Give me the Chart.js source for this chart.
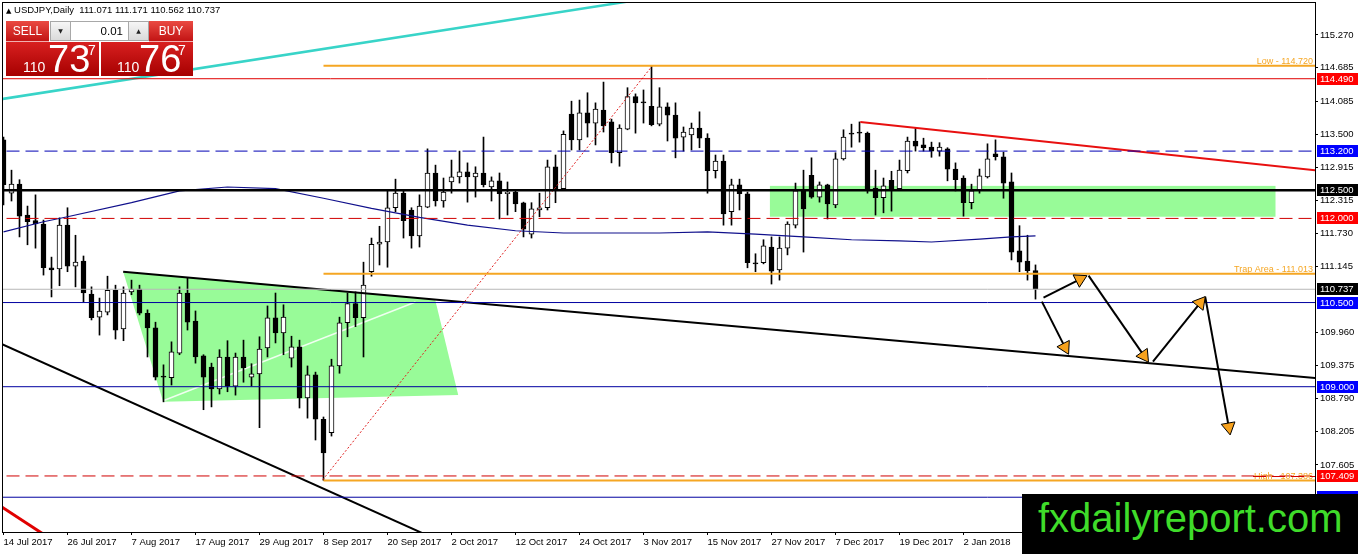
<!DOCTYPE html>
<html>
<head>
<meta charset="utf-8">
<title>USDJPY Daily</title>
<script src="https://cdn.jsdelivr.net/npm/chart.js@4.4.1/dist/chart.umd.min.js"></script>
<style>
  html, body { margin: 0; padding: 0; background: #fff; }
  #wrap { position: relative; width: 1358px; height: 554px; overflow: hidden; font-family: "Liberation Sans", Arial, sans-serif; }
  #chart { position: absolute; left: 0; top: 0; }
  .abs { position: absolute; white-space: nowrap; }
  #title { left: 6px; top: 5px; font-size: 9.5px; line-height: 10px; color: #000; }
  #title b { font-weight: normal; font-size: 7px; font-family: "DejaVu Sans", sans-serif; }
  .hdr { top: 21px; height: 21px; color: #fff; font-size: 12px; line-height: 21px; text-align: center;
         background: linear-gradient(#ea4a42, #c21414); box-sizing: border-box; border-bottom: 1px solid #f1b0b0; }
  #sell { left: 6px; width: 43px; }
  #buy { left: 149px; width: 44px; }
  .spin { top: 21px; height: 20px; width: 21px; background: linear-gradient(#f6f6f6, #dadada); border: 1px solid #a8a8a8;
          box-sizing: border-box; font-size: 6px; line-height: 18px; text-align: center; color: #222; font-family: "DejaVu Sans", sans-serif; }
  #dn { left: 50px; } #up { left: 128px; }
  #lot { left: 71px; top: 21px; width: 57px; height: 20px; background: #fff; border-top: 1px solid #a8a8a8; border-bottom: 1px solid #a8a8a8;
         box-sizing: border-box; font-size: 11.5px; line-height: 18px; text-align: right; padding-right: 5px; color: #000; }
  .quote { top: 42px; height: 34px; background: linear-gradient(#d82020, #a60000); color: #fff; }
  #qs { left: 6px; width: 93px; } #qb { left: 101px; width: 92px; }
  .q1 { position: absolute; top: 18px; font-size: 14px; line-height: 14px; }
  .q2 { position: absolute; top: -2px; font-size: 38px; line-height: 38px; }
  .q3 { position: absolute; top: 1px; font-size: 14px; line-height: 14px; }
  #logo { left: 1022px; top: 494px; width: 336px; height: 60px; background: #000; }
  #logo span { position: absolute; left: 16px; top: 4px; font-size: 40px; line-height: 40px; color: #3fdc2a; }
</style>
</head>
<body>
<div id="wrap">
  <canvas id="chart" width="1358" height="554"></canvas>

  <div id="title" class="abs"><b>▲</b> USDJPY,Daily&nbsp; 111.071 111.171 110.562 110.737</div>
  <div id="sell" class="abs hdr">SELL</div>
  <div id="dn" class="abs spin">▼</div>
  <div id="lot" class="abs">0.01</div>
  <div id="up" class="abs spin">▲</div>
  <div id="buy" class="abs hdr">BUY</div>
  <div id="qs" class="abs quote">
    <span class="q1" style="left:17px">110</span><span class="q2" style="left:42px">73</span><span class="q3" style="left:82px">7</span>
  </div>
  <div id="qb" class="abs quote">
    <span class="q1" style="left:16px">110</span><span class="q2" style="left:38px">76</span><span class="q3" style="left:77px">7</span>
  </div>
  <div id="logo" class="abs"><span>fxdailyreport.com</span></div>
</div>

<script>
// bar index of every 8th session and its date
const dateTicks = [0, 8, 16, 24, 32, 40, 48, 56, 64, 72, 80, 88, 96, 104, 112, 120];
const dateLabels = ['14 Jul 2017', '26 Jul 2017', '7 Aug 2017', '17 Aug 2017', '29 Aug 2017', '8 Sep 2017',
    '20 Sep 2017', '2 Oct 2017', '12 Oct 2017', '24 Oct 2017', '3 Nov 2017', '15 Nov 2017',
    '27 Nov 2017', '7 Dec 2017', '19 Dec 2017', '2 Jan 2018'];

// daily candles, USDJPY
const open = [
    113.40, 112.45, 112.61, 112.06, 111.96, 111.90, 111.12, 111.10, 111.88, 111.15,
    111.24, 110.65, 110.24, 110.33, 110.72, 110.03, 110.69, 110.74, 110.31, 110.05,
    109.19, 109.16, 109.60, 110.67, 110.17, 109.55, 109.35, 108.96, 109.53, 109.01,
    109.53, 109.17, 109.23, 109.69, 110.23, 109.96, 109.51, 109.71, 108.80, 109.21,
    108.42, 108.18, 109.37, 110.14, 110.48, 110.23, 111.05, 111.54, 111.58, 112.19,
    112.45, 112.15, 111.69, 112.20, 112.81, 112.31, 112.65, 112.74, 112.83, 112.74,
    112.81, 112.56, 112.67, 112.44, 112.47, 112.28, 111.72, 112.15, 112.19, 112.92,
    112.53, 113.86, 113.40, 113.88, 113.70, 113.93, 113.72, 113.17, 113.59, 114.17,
    114.08, 114.00, 113.68, 113.99, 113.84, 113.45, 113.49, 113.61, 113.43, 112.85,
    113.02, 112.12, 112.60, 112.44, 111.21, 111.21, 111.49, 111.08, 111.47, 111.88,
    112.49, 112.77, 112.38, 112.60, 112.24, 113.06, 113.52, 113.54, 113.52, 112.54,
    112.37, 112.68, 112.53, 112.85, 113.38, 113.31, 113.27, 113.20, 113.24, 112.88,
    112.72, 112.28, 112.51, 112.74, 113.15, 113.10, 112.65, 111.42, 111.24, 111.071
];
const high = [
    113.45, 112.86, 112.69, 112.22, 112.42, 111.97, 111.31, 112.01, 112.19, 111.70,
    111.33, 110.78, 110.58, 110.97, 110.81, 110.78, 110.90, 110.81, 110.37, 110.15,
    109.39, 109.80, 110.78, 110.94, 110.35, 109.57, 109.42, 109.66, 109.82, 109.60,
    109.83, 109.41, 109.89, 110.44, 110.67, 110.46, 109.90, 109.83, 109.37, 109.26,
    108.46, 109.49, 110.24, 110.67, 110.69, 111.22, 111.65, 111.86, 112.51, 112.70,
    112.51, 112.19, 112.42, 113.24, 112.95, 112.72, 113.04, 113.20, 112.99, 112.92,
    113.45, 112.74, 112.81, 112.65, 112.51, 112.29, 112.28, 112.45, 113.04, 113.13,
    113.56, 114.09, 114.11, 114.24, 114.06, 114.43, 113.77, 113.67, 114.33, 114.22,
    114.29, 114.72, 114.33, 114.06, 114.06, 113.63, 113.70, 113.90, 113.51, 113.13,
    113.13, 112.70, 112.70, 112.47, 111.37, 111.62, 111.67, 111.67, 111.94, 112.63,
    112.86, 113.08, 112.65, 112.61, 113.17, 113.58, 113.68, 113.72, 113.54, 112.86,
    112.72, 112.84, 113.04, 113.45, 113.61, 113.43, 113.36, 113.35, 113.26, 112.99,
    112.76, 112.61, 112.88, 113.33, 113.40, 113.18, 112.81, 111.87, 111.70, 111.171
];
const low = [
    112.24, 112.31, 111.67, 111.53, 111.47, 110.99, 110.60, 110.80, 111.05, 110.78,
    110.51, 110.19, 109.92, 110.28, 109.85, 109.82, 110.64, 110.28, 109.53, 109.12,
    108.73, 109.03, 109.57, 110.01, 109.42, 108.59, 108.64, 108.87, 108.91, 108.85,
    109.08, 109.01, 108.27, 109.53, 109.78, 109.57, 109.35, 108.62, 108.44, 108.05,
    107.33, 108.12, 109.24, 109.89, 110.07, 109.53, 110.97, 111.17, 111.13, 112.12,
    111.65, 111.47, 111.49, 112.19, 112.22, 112.20, 112.45, 112.63, 112.29, 112.38,
    112.56, 112.31, 111.99, 112.06, 112.12, 111.67, 111.65, 112.03, 112.15, 112.28,
    112.53, 113.22, 113.22, 113.45, 113.31, 113.54, 112.99, 112.93, 113.58, 113.52,
    113.70, 113.65, 113.65, 113.38, 113.08, 113.20, 113.22, 113.26, 112.45, 112.72,
    111.88, 111.88, 112.15, 111.12, 111.05, 111.19, 110.83, 110.90, 111.35, 111.83,
    111.40, 112.36, 112.29, 111.99, 112.19, 113.04, 113.27, 113.36, 112.45, 112.06,
    112.10, 112.13, 112.51, 112.81, 113.20, 113.20, 113.09, 113.11, 112.67, 112.49,
    112.04, 112.17, 112.45, 112.72, 113.04, 112.36, 111.26, 111.05, 110.90, 110.562
];
const close = [
    112.60, 112.61, 112.04, 111.94, 111.90, 111.12, 111.08, 111.88, 111.15, 111.22,
    110.67, 110.23, 110.35, 110.72, 110.01, 110.67, 110.74, 110.31, 110.05, 109.17,
    109.17, 109.62, 110.67, 110.15, 109.53, 109.17, 108.96, 109.53, 109.01, 109.53,
    109.34, 109.23, 109.67, 110.23, 109.96, 110.24, 109.71, 108.80, 109.21, 108.42,
    107.82, 109.37, 110.14, 110.48, 110.23, 110.81, 111.54, 111.58, 112.19, 112.45,
    111.96, 111.69, 112.22, 112.81, 112.31, 112.47, 112.74, 112.83, 112.74, 112.81,
    112.60, 112.67, 112.44, 112.47, 112.26, 111.81, 112.17, 112.19, 112.92, 112.53,
    113.50, 113.40, 113.88, 113.70, 113.95, 113.65, 113.17, 113.61, 114.17, 114.06,
    114.06, 113.67, 113.99, 113.84, 113.43, 113.54, 113.61, 113.43, 112.85, 113.02,
    112.08, 112.60, 112.44, 111.21, 111.19, 111.51, 111.06, 111.47, 111.90, 112.49,
    112.17, 112.38, 112.60, 112.26, 113.06, 113.45, 113.50, 113.52, 112.51, 112.37,
    112.58, 112.53, 112.86, 113.38, 113.29, 113.26, 113.20, 113.27, 112.88, 112.69,
    112.28, 112.49, 112.76, 113.06, 113.10, 112.63, 111.40, 111.22, 111.07, 110.737
];

// moving average, read at sampled bars
const maIdx = [0, 5, 8, 16, 22, 28, 34, 40, 46, 52, 58, 64, 70, 76, 82, 88, 94, 100, 106, 112, 116, 122, 126, 129];
const maVal = [111.76, 111.94, 112.03, 112.28, 112.49, 112.56, 112.53, 112.36, 112.18, 112.02, 111.88, 111.78, 111.74,
    111.74, 111.74, 111.76, 111.72, 111.67, 111.62, 111.60, 111.58, 111.63, 111.67, 111.69];

const yTicks = [115.270, 114.685, 114.085, 113.500, 112.915, 112.315, 111.730, 111.145,
    109.960, 109.375, 108.790, 108.205, 107.605];

// horizontal levels
const redLevels = [114.490];
const blueDashLevels = [113.200];
const blackLevels = [112.500];
const redDashLevels = [112.000, 107.409];
const bidLevels = [110.737];
const blueLevels = [110.500, 109.000, 107.030];
const orangeLevels = [114.720, 111.013, 107.33];
const orangeNames = ['Low - 114.720', 'Trap Area - 111.013', 'High - 107.386'];
const orangeFrom = 40;

// price tags on the axis
const tagValues = [114.490, 113.200, 112.500, 112.000, 110.737, 110.500, 109.000, 107.409, 107.030];
const tagColors = ['#ff0000', '#0000ff', '#000000', '#ff0000', '#000000', '#0000ff', '#0000ff', '#ff0000', '#0000ff'];

// trend lines [bar, price]
const cyanTrend = [[-1, 114.11], [80, 115.91]];
const blackLowTrend = [[-1, 109.81], [60, 105.90]];
const redLowTrend = [[-1, 106.93], [8, 106.09]];
const redTopTrend = [[107.1, 113.72], [164.5, 112.85]];
const blackTrend = [[14.96, 111.05], [164.5, 109.15]];
const redDotted = [[39.9, 107.34], [81.1, 114.72]];
const paleLine = [[19.96, 108.75], [51.5, 110.51]];

// green zones
const triangleZone = [[14.96, 111.05], [53.96, 110.55], [56.84, 108.85], [19.96, 108.73]];
const boxZone = [[95.8, 112.58], [159, 112.03]];

// projected path arrows
const arrowFrom = [[130.0, 110.588], [135.63, 110.980], [129.8, 110.516], [143.68, 109.447], [150.21, 110.605]];
const arrowTo = [[134.54, 110.915], [142.55, 109.554], [132.68, 109.705], [149.59, 110.495], [153.16, 108.281]];
const arrowTurn = [63, 145, 153, 39, 170];

const FONT = 'Liberation Sans';

function seg(points, color, width, dash, order) {
    return {
        type: 'line',
        data: points.map(p => ({ x: p[0], y: p[1] })),
        borderColor: color,
        borderWidth: width,
        borderDash: dash || [],
        pointRadius: 0,
        pointHoverRadius: 0,
        fill: false,
        tension: 0,
        order: order === undefined ? 1 : order
    };
}

function level(v, color, width, dash, from) {
    return seg([[from === undefined ? -2 : from, v], [166, v]], color, width, dash);
}

// drop the label padding chart.js reserves around each axis
function noPad(s) {
    s.paddingTop = 0;
    s.paddingBottom = 0;
    s.paddingLeft = 0;
    s.paddingRight = 0;
}

let datasets = [];

// candle bodies and wicks
datasets.push({
    type: 'bar',
    data: open.map((o, i) => ({ x: i, y: [o, close[i]] })),
    backgroundColor: open.map((o, i) => close[i] > o ? '#ffffff' : '#000000'),
    borderColor: '#000000',
    borderWidth: 1,
    borderSkipped: false,
    barThickness: 5,
    minBarLength: 1,
    grouped: false,
    order: 3
});
datasets.push({
    type: 'bar',
    data: low.map((l, i) => ({ x: i, y: [l, high[i]] })),
    backgroundColor: '#000000',
    borderWidth: 0,
    barThickness: 1,
    grouped: false,
    order: 4
});

datasets.push(seg(paleLine, 'rgba(255,255,255,0.85)', 1.5, [], 5));

// moving average
datasets.push(seg(maIdx.map((x, i) => [x, maVal[i]]), '#10108c', 1.2, [], 2));

redLevels.forEach(v => datasets.push(level(v, '#e00000', 1)));
blueDashLevels.forEach(v => datasets.push(level(v, '#0000b4', 1, [13, 6])));
blackLevels.forEach(v => datasets.push(level(v, '#000000', 2.5)));
redDashLevels.forEach(v => datasets.push(level(v, '#d00000', 1, [13, 6])));
bidLevels.forEach(v => datasets.push(level(v, '#b8b8b8', 1)));
blueLevels.forEach(v => datasets.push(level(v, '#0000a0', 1)));
orangeLevels.forEach(v => datasets.push(level(v, '#f5a623', 2, [], orangeFrom)));

datasets.push(seg(cyanTrend, '#38d4c8', 2.5));
datasets.push(seg(blackLowTrend, '#000000', 2));
datasets.push(seg(redLowTrend, '#e00000', 3));
datasets.push(seg(redTopTrend, '#e81010', 2));
datasets.push(seg(blackTrend, '#000000', 2));
datasets.push(seg(redDotted, '#e02020', 1, [2, 2]));

arrowFrom.forEach((f, k) => {
    let ds = seg([f, arrowTo[k]], '#000000', 2, [], 0);
    ds.pointRadius = [0, 8];
    ds.pointStyle = 'triangle';
    ds.pointRotation = arrowTurn[k];
    ds.pointBackgroundColor = '#f7a21e';
    ds.pointBorderColor = '#000000';
    ds.pointBorderWidth = 1;
    datasets.push(ds);
});

const zonePlugin = {
    id: 'zones',
    beforeDatasetsDraw(chart) {
        const { ctx, chartArea, scales: { x, y } } = chart;
        ctx.save();
        ctx.beginPath();
        ctx.rect(chartArea.left, chartArea.top, chartArea.width, chartArea.height);
        ctx.clip();
        ctx.fillStyle = '#98fb98';
        ctx.beginPath();
        triangleZone.forEach((p, i) => {
            const px = x.getPixelForValue(p[0]), py = y.getPixelForValue(p[1]);
            if (i === 0) ctx.moveTo(px, py); else ctx.lineTo(px, py);
        });
        ctx.closePath();
        ctx.fill();
        const x0 = x.getPixelForValue(boxZone[0][0]), x1 = x.getPixelForValue(boxZone[1][0]);
        const y0 = y.getPixelForValue(boxZone[0][1]), y1 = y.getPixelForValue(boxZone[1][1]);
        ctx.fillRect(x0, y0, x1 - x0, y1 - y0);
        ctx.restore();
    }
};

const overlayPlugin = {
    id: 'overlay',
    afterDraw(chart) {
        const { ctx, chartArea, scales: { y } } = chart;
        ctx.save();
        // frame
        ctx.strokeStyle = '#000';
        ctx.lineWidth = 1;
        ctx.strokeRect(chartArea.left - 0.5, chartArea.top - 0.5, chartArea.width + 1, chartArea.height + 1);

        // level captions
        ctx.font = '9px "' + FONT + '"';
        ctx.fillStyle = '#f5a623';
        ctx.textAlign = 'right';
        ctx.textBaseline = 'alphabetic';
        orangeLevels.forEach((v, i) => {
            const py = y.getPixelForValue(v);
            ctx.fillText(orangeNames[i], chartArea.right - 2, i === 2 ? py - 1 : py - 2);
        });
        // red dashed level runs over the lower caption
        ctx.strokeStyle = '#d00000';
        ctx.setLineDash([13, 6]);
        const pr = Math.round(y.getPixelForValue(107.409)) + 0.5;
        ctx.beginPath();
        ctx.moveTo(chartArea.right - 62, pr);
        ctx.lineTo(chartArea.right, pr);
        ctx.stroke();
        ctx.setLineDash([]);

        // price tags
        ctx.font = '9.5px "' + FONT + '"';
        ctx.textAlign = 'left';
        ctx.textBaseline = 'middle';
        tagValues.forEach((v, i) => {
            const py = Math.round(y.getPixelForValue(v));
            ctx.fillStyle = tagColors[i];
            ctx.fillRect(chartArea.right + 2, py - 6, 43, 12);
            ctx.fillStyle = '#ffffff';
            ctx.fillText(v.toFixed(3), chartArea.right + 5, py + 0.5);
        });
        ctx.restore();
    }
};

new Chart(document.getElementById('chart'), {
    type: 'bar',
    data: { datasets: datasets },
    options: {
        responsive: false,
        animation: false,
        events: [],
        layout: { autoPadding: false, padding: { left: 3, top: 3, right: 0, bottom: 0 } },
        plugins: { legend: { display: false }, tooltip: { enabled: false } },
        scales: {
            x: {
                type: 'linear',
                min: -0.0625,
                max: 163.9375,
                offset: false,
                afterBuildTicks: s => { s.ticks = dateTicks.map(v => ({ value: v })); },
                afterFit: s => { s.height = 22; noPad(s); },
                ticks: {
                    autoSkip: false,
                    maxRotation: 0,
                    align: 'start',
                    padding: 2,
                    color: '#000',
                    font: { family: FONT, size: 9.5 },
                    callback: v => dateLabels[dateTicks.indexOf(v)]
                },
                grid: { drawOnChartArea: false, drawTicks: true, tickLength: 3, color: '#000', offset: false },
                border: { display: false }
            },
            y: {
                position: 'right',
                min: 106.41,
                max: 115.84,
                afterBuildTicks: s => { s.ticks = yTicks.map(v => ({ value: v })); },
                afterFit: s => { s.width = 43; noPad(s); },
                ticks: {
                    autoSkip: false,
                    padding: 2,
                    color: '#000',
                    font: { family: FONT, size: 9.5 },
                    callback: v => v.toFixed(3)
                },
                grid: { drawOnChartArea: false, drawTicks: true, tickLength: 3, color: '#000' },
                border: { display: false }
            }
        }
    },
    plugins: [zonePlugin, overlayPlugin]
});
</script>
</body>
</html>
